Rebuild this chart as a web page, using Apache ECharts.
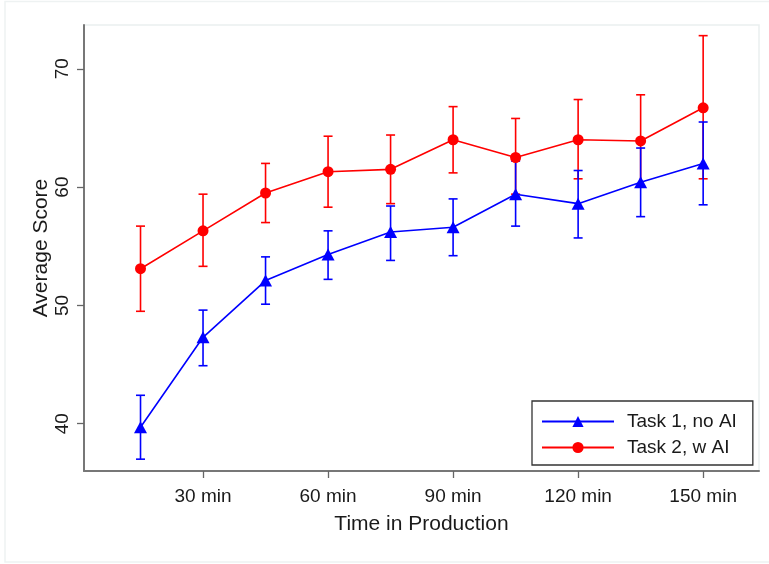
<!DOCTYPE html>
<html>
<head>
<meta charset="utf-8">
<script src="https://cdn.jsdelivr.net/npm/echarts@6/dist/echarts.min.js"></script>
<style>
  html, body { margin: 0; padding: 0; background: #ffffff; }
  #chart { width: 769px; height: 564px; }
</style>
</head>
<body>
<div id="chart"></div>
<script>
// Minutes into the production session at which scores were averaged
const minutes = [15, 30, 45, 60, 75, 90, 105, 120, 135, 150];

// Task 1 (no AI): mean score with lower / upper confidence bounds
const task1Mean  = [39.7, 47.3, 52.1, 54.3, 56.2, 56.6, 59.4, 58.6, 60.4, 62.0];
const task1Lower = [37.0, 44.9, 50.1, 52.2, 53.8, 54.2, 56.7, 55.7, 57.5, 58.5];
const task1Upper = [42.4, 49.6, 54.1, 56.3, 58.4, 59.0, 62.2, 61.4, 63.3, 65.5];

// Task 2 (with AI): mean score with lower / upper confidence bounds
const task2Mean  = [53.1, 56.3, 59.5, 61.3, 61.5, 64.0, 62.5, 64.0, 63.9, 66.7];
const task2Lower = [49.5, 53.3, 57.0, 58.3, 58.6, 61.2, 59.4, 60.7, 60.0, 60.7];
const task2Upper = [56.7, 59.4, 62.0, 64.3, 64.4, 66.8, 65.8, 67.4, 67.8, 72.8];

// Axis ticks
const xTicks = [30, 60, 90, 120, 150];
const xTickLabels = ['30 min', '60 min', '90 min', '120 min', '150 min'];
const yTicks = [40, 50, 60, 70];

const seriesNames = ['Task 1, no AI', 'Task 2, w AI'];
const BLUE = '#0000ff';
const RED = '#ff0000';
const FONT = '"Liberation Sans", Arial, sans-serif';
const TEXT = '#1a1a1a';

const pairs = (xs, ys) => xs.map((x, i) => [x, ys[i]]);
const bars = (xs, lo, hi) => xs.map((x, i) => [x, lo[i], hi[i]]);

// Vertical error bar with horizontal caps
function errorBar(color) {
  return function (params, api) {
    const x = api.value(0);
    const lo = api.coord([x, api.value(1)]);
    const hi = api.coord([x, api.value(2)]);
    const half = 4.5;
    const style = { stroke: color, lineWidth: 1.6, fill: null };
    return {
      type: 'group',
      children: [
        { type: 'line', shape: { x1: lo[0], y1: lo[1], x2: hi[0], y2: hi[1] }, style },
        { type: 'line', shape: { x1: lo[0] - half, y1: lo[1], x2: lo[0] + half, y2: lo[1] }, style },
        { type: 'line', shape: { x1: hi[0] - half, y1: hi[1], x2: hi[0] + half, y2: hi[1] }, style }
      ]
    };
  };
}

const chart = echarts.init(document.getElementById('chart'), null, { renderer: 'canvas' });

chart.setOption({
  backgroundColor: '#ffffff',
  animation: false,
  textStyle: { fontFamily: FONT },
  graphic: [{
    type: 'rect',
    silent: true,
    z: -10,
    shape: { x: 5, y: 1.5, width: 770, height: 560.5 },
    style: { fill: null, stroke: '#eef2f2', lineWidth: 1.5 }
  }],
  grid: {
    left: 84, right: 10, top: 25, bottom: 93,
    show: true, borderColor: '#eaf0f0', borderWidth: 1.5, backgroundColor: '#ffffff'
  },
  legend: {
    data: seriesNames,
    orient: 'vertical',
    left: 532, top: 401,
    itemWidth: 72, itemHeight: 14, itemGap: 7,
    padding: [11, 16, 8, 9],
    borderColor: '#333333', borderWidth: 1.3, borderRadius: 0,
    backgroundColor: '#ffffff',
    textStyle: { fontSize: 19, color: TEXT, fontFamily: FONT, padding: [0, 0, 0, 8] }
  },
  xAxis: {
    type: 'value',
    min: 1.44, max: 163.4,
    name: 'Time in Production',
    nameLocation: 'middle',
    nameGap: 43,
    nameTextStyle: { fontSize: 21, color: TEXT, fontFamily: FONT },
    axisLine: { show: true, onZero: false, lineStyle: { color: '#777777', width: 2 } },
    axisTick: { show: true, inside: false, length: 7, customValues: xTicks, lineStyle: { color: '#666666', width: 1.3 } },
    axisLabel: {
      customValues: xTicks, margin: 16, fontSize: 19, color: TEXT, fontFamily: FONT,
      formatter: v => xTickLabels[xTicks.indexOf(v)]
    },
    splitLine: { show: false }
  },
  yAxis: {
    type: 'value',
    min: 36.0, max: 73.7,
    name: 'Average Score',
    nameLocation: 'middle',
    nameRotate: 90,
    nameGap: 32,
    nameMoveOverlap: false,
    nameTextStyle: { fontSize: 21, color: TEXT, fontFamily: FONT },
    axisLine: { show: true, onZero: false, lineStyle: { color: '#777777', width: 2 } },
    axisTick: { show: true, inside: false, length: 7, customValues: yTicks, lineStyle: { color: '#666666', width: 1.3 } },
    axisLabel: { customValues: yTicks, rotate: 90, margin: 12, fontSize: 19, color: TEXT, fontFamily: FONT },
    splitLine: { show: false }
  },
  series: [
    {
      name: 'Task 2 bars', type: 'custom', z: 2,
      renderItem: errorBar(RED), data: bars(minutes, task2Lower, task2Upper),
      encode: { x: 0, y: [1, 2] }
    },
    {
      name: 'Task 1 bars', type: 'custom', z: 3,
      renderItem: errorBar(BLUE), data: bars(minutes, task1Lower, task1Upper),
      encode: { x: 0, y: [1, 2] }
    },
    {
      name: seriesNames[1], type: 'line', z: 4,
      data: pairs(minutes, task2Mean),
      symbol: 'circle', symbolSize: 11, showSymbol: true,
      lineStyle: { color: RED, width: 1.6 },
      itemStyle: { color: RED }
    },
    {
      name: seriesNames[0], type: 'line', z: 5,
      data: pairs(minutes, task1Mean),
      symbol: 'triangle', symbolSize: [13, 12], showSymbol: true,
      lineStyle: { color: BLUE, width: 1.6 },
      itemStyle: { color: BLUE }
    }
  ]
});
</script>
</body>
</html>
